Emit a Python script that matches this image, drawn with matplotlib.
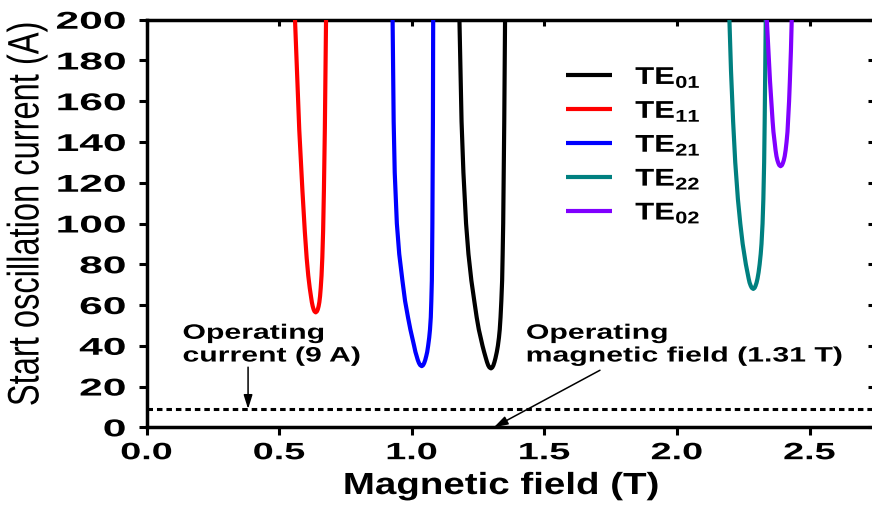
import matplotlib
matplotlib.use("Agg")
import matplotlib.pyplot as plt
from matplotlib.patheffects import AbstractPathEffect
from matplotlib.transforms import Affine2D

# ---------------- data ----------------
# TE01 (black)
te01_B = [1.180, 1.184, 1.188, 1.195, 1.205, 1.214, 1.225, 1.236, 1.245, 1.253, 1.260, 1.267,
          1.273, 1.2795, 1.284, 1.2885, 1.293, 1.299,
          1.304, 1.308, 1.312, 1.316, 1.321, 1.325, 1.329, 1.332, 1.335, 1.338, 1.341, 1.343,
          1.345, 1.349, 1.352]
te01_I = [200, 175, 150, 125, 100, 85, 72, 62, 54, 48, 44, 40,
          37, 34, 32, 30.4, 29.4, 28.9,
          29.4, 30.4, 32, 34, 37, 40, 44, 48, 54, 62, 72, 85,
          100, 150, 200]

# TE11 (red)
te11_B = [0.560, 0.576, 0.588, 0.597, 0.604, 0.610, 0.6155, 0.620, 0.6235, 0.6267, 0.630, 0.6334,
          0.638,
          0.6426, 0.646, 0.649, 0.6518, 0.6545, 0.657, 0.660, 0.663, 0.666, 0.669, 0.6725, 0.677]
te11_I = [200, 146, 116, 96, 83, 74.4, 68.4, 64.4, 61.4, 59.4, 57.9, 56.9,
          56.4,
          56.9, 57.9, 59.4, 61.4, 64.4, 68.4, 74.4, 83.4, 96.4, 116.4, 146.4, 200]

# TE21 (blue)
te21_B = [0.928, 0.930, 0.932, 0.936, 0.944, 0.953, 0.965, 0.975, 0.986, 0.995, 1.002, 1.009,
          1.014, 1.0185, 1.023, 1.0275, 1.032, 1.038,
          1.043, 1.047, 1.051, 1.055, 1.0585, 1.062, 1.066, 1.069, 1.072, 1.074, 1.076, 1.077,
          1.078, 1.080, 1.081]
te21_I = [200, 175, 150, 125, 100, 85, 72, 62, 54, 48, 44, 40,
          37, 35, 33, 31.5, 30.5, 30,
          30.5, 31.5, 33, 35, 37, 40, 44, 48, 54, 62, 72, 85,
          100, 150, 200]

# TE22 (teal)
te22_B = [2.198, 2.204, 2.212, 2.220, 2.230, 2.239, 2.248, 2.254, 2.260, 2.266, 2.2705, 2.274,
          2.2785, 2.2825, 2.288,
          2.293, 2.2965, 2.3005, 2.304, 2.308, 2.312, 2.316, 2.319, 2.323, 2.326, 2.329, 2.331,
          2.333, 2.335]
te22_I = [200, 175, 150, 130, 112, 100, 90, 85, 80, 76, 73, 71,
          69.4, 68.4, 67.9,
          68.4, 69.4, 71, 73, 76, 80, 85, 90, 100, 112, 130, 150,
          175, 200]

# TE02 (violet)
te02_B = [2.339, 2.345, 2.351, 2.356, 2.361, 2.364, 2.3685, 2.372, 2.3755, 2.379, 2.3825, 2.386,
          2.391,
          2.396, 2.3995, 2.403, 2.4065, 2.410, 2.4135, 2.417, 2.419, 2.423, 2.426, 2.430, 2.433]
te02_I = [200, 185, 170, 160, 150, 145, 140, 136, 133, 131, 129.6, 128.6,
          128.1,
          128.6, 129.6, 131, 133, 136, 140, 145, 150, 160, 170, 185, 200]

mode_labels = [r"$\mathbf{TE_{01}}$", r"$\mathbf{TE_{11}}$", r"$\mathbf{TE_{21}}$",
               r"$\mathbf{TE_{22}}$", r"$\mathbf{TE_{02}}$"]
mode_colors = ["#000000", "#FF0000", "#0000FF", "#008080", "#8000FF"]

operating_current = 9.0
operating_field = 1.31

x_ticks = [0.0, 0.5, 1.0, 1.5, 2.0, 2.5]
x_ticklabels = ["0.0", "0.5", "1.0", "1.5", "2.0", "2.5"]
y_ticks = [0, 20, 40, 60, 80, 100, 120, 140, 160, 180, 200]
y_ticklabels = [str(v) for v in y_ticks]


# ---------------- helpers ----------------
class Stretch(AbstractPathEffect):
    """Stretch drawn text horizontally (the reference image is horizontally stretched)."""
    def __init__(self, sx=1.0, anchor="center"):
        super().__init__((0, 0))
        self.sx = sx
        self.anchor = anchor

    def draw_path(self, renderer, gc, tpath, affine, rgbFace=None):
        ext = tpath.get_extents(affine)
        if self.anchor == "left":
            cx = ext.x0
        elif self.anchor == "right":
            cx = ext.x1
        else:
            cx = 0.5 * (ext.x0 + ext.x1)
        aff = affine + Affine2D().translate(-cx, 0).scale(self.sx, 1.0).translate(cx, 0)
        renderer.draw_path(gc, tpath, aff, rgbFace)


plt.rcParams["font.family"] = ["Liberation Sans", "DejaVu Sans"]
plt.rcParams["mathtext.fontset"] = "custom"
plt.rcParams["mathtext.rm"] = "Liberation Sans:bold"
plt.rcParams["mathtext.bf"] = "Liberation Sans:bold"
plt.rcParams["mathtext.it"] = "Liberation Sans:bold"

W, H = 872, 506
fig = plt.figure(figsize=(W / 100, H / 100), dpi=100)
x0px, x1px = 146.5, 873.5
ytop, ybot = 20.7, 428.3
ax = fig.add_axes([x0px / W, 1 - ybot / H, (x1px - x0px) / W, (ybot - ytop) / H])

xmax = (x1px - x0px) / 265.2
ax.set_xlim(0, xmax)
ax.set_ylim(0, 200)

series = [(te01_B, te01_I), (te11_B, te11_I), (te21_B, te21_I), (te22_B, te22_I), (te02_B, te02_I)]
handles = []
for (b, i), lab, col in zip(series, mode_labels, mode_colors):
    ln, = ax.plot(b, i, color=col, lw=3.0, solid_joinstyle="round", solid_capstyle="butt", label=lab)
    handles.append(ln)

ax.axhline(operating_current, color="black", lw=2.2, linestyle=(0, (1.8, 1.3)))

for s in ax.spines.values():
    s.set_linewidth(2.5)
ax.spines["top"].set_visible(False)
ax.spines["right"].set_visible(False)

ax.set_xticks(x_ticks)
ax.set_xticklabels(x_ticklabels, fontsize=17, fontweight="bold")
ax.set_yticks(y_ticks)
ax.set_yticklabels(y_ticklabels, fontsize=17.5, fontweight="bold")
ax.tick_params(axis="both", direction="out", length=6, width=2.2, top=False, right=False)
ax.tick_params(axis="x", pad=4)
ax.tick_params(axis="y", pad=9)
for t in ax.xaxis.get_major_ticks():
    t.label1.set_path_effects([Stretch(1.6, "center")])
for t in ax.yaxis.get_major_ticks():
    t.label1.set_path_effects([Stretch(1.75, "right")])

secx = ax.secondary_xaxis("top")
secx.set_xticks(x_ticks)
secx.tick_params(direction="in", length=4.5, width=2.2, labeltop=False)
secx.spines["top"].set_linewidth(2.5)
secy = ax.secondary_yaxis("right")
secy.set_yticks(y_ticks)
secy.tick_params(direction="in", length=4.5, width=2.2, labelright=False)
secy.spines["right"].set_linewidth(2.5)

xl = ax.set_xlabel("Magnetic field (T)", fontsize=22, fontweight="bold")
xl.set_path_effects([Stretch(1.26, "center")])
ax.xaxis.set_label_coords((501 - x0px) / (x1px - x0px), (ybot - 487) / (ybot - ytop))
xl.set_va("center")

yl = ax.set_ylabel("Start oscillation current (A)", fontsize=23.5)
yl.set_path_effects([Stretch(1.35, "center")])
ax.yaxis.set_label_coords((27 - x0px) / (x1px - x0px), (ybot - 215) / (ybot - ytop))
yl.set_va("center")

leg = ax.legend(handles=handles, loc="upper left", frameon=False, fontsize=17.5,
                bbox_to_anchor=((566 - x0px) / (x1px - x0px), (ybot - 66) / (ybot - ytop)),
                borderaxespad=0, borderpad=0, handlelength=1.9, handletextpad=0.95,
                labelspacing=0.37)
for txt in leg.get_texts():
    txt.set_path_effects([Stretch(1.28, "left")])

t1 = ax.text(0.137, 50.8, "Operating\ncurrent (9 A)", fontsize=15, fontweight="bold",
             ha="left", va="top", linespacing=1.25)
t1.set_path_effects([Stretch(1.45, "left")])
t2 = ax.text(1.432, 50.8, "Operating\nmagnetic field (1.31 T)", fontsize=15, fontweight="bold",
             ha="left", va="top", linespacing=1.25)
t2.set_path_effects([Stretch(1.45, "left")])

ax.annotate("", xy=(0.383, operating_current), xytext=(0.383, 29.5),
            arrowprops=dict(arrowstyle="-|>,head_length=0.7,head_width=0.22", color="black",
                            lw=1.1, shrinkA=0, shrinkB=0, mutation_scale=12))
ax.annotate("", xy=(operating_field, 0), xytext=(1.71, 28.0),
            arrowprops=dict(arrowstyle="-|>,head_length=0.7,head_width=0.22", color="black",
                            lw=1.1, shrinkA=0, shrinkB=0, mutation_scale=12))

fig.savefig("out.png", dpi=100)
